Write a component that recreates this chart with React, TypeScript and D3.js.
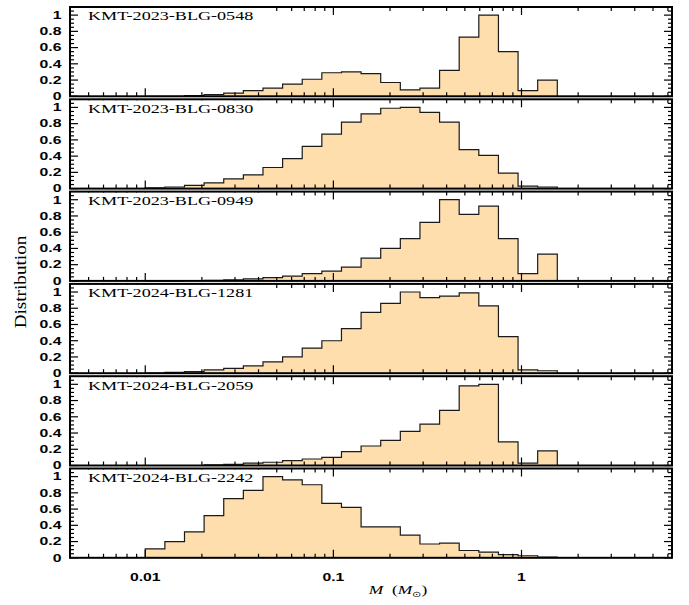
import React from 'react';
import * as d3 from 'd3';

const W = 689;
const H = 605;

// x axis: log mass, y axis: normalised distribution
const X_LOG_MIN = -2.4;
const X_LOG_MAX = 0.8;
const Y_MAX = 1.1;

// histogram bins (log10 M)
const BIN_LOG_START = -2;
const BIN_LOG_WIDTH = 0.1043;

const PANEL_NAMES = [
    'KMT-2023-BLG-0548',
    'KMT-2023-BLG-0830',
    'KMT-2023-BLG-0949',
    'KMT-2024-BLG-1281',
    'KMT-2024-BLG-2059',
    'KMT-2024-BLG-2242',
];

const DIST_0548 = [0, 0, 0.01, 0.02, 0.04, 0.07, 0.10, 0.15, 0.21, 0.29, 0.30, 0.28, 0.17, 0.08, 0.10, 0.32, 0.73, 1.0, 0.55, 0.07, 0.20];
const DIST_0830 = [0.01, 0.02, 0.04, 0.07, 0.12, 0.17, 0.26, 0.37, 0.52, 0.67, 0.82, 0.92, 0.99, 1.0, 0.94, 0.82, 0.48, 0.41, 0.19, 0.03, 0.02];
const DIST_0949 = [0, 0, 0.005, 0.008, 0.012, 0.025, 0.04, 0.06, 0.09, 0.12, 0.17, 0.28, 0.40, 0.52, 0.72, 1.0, 0.82, 0.92, 0.52, 0.09, 0.33];
const DIST_1281 = [0, 0.01, 0.02, 0.04, 0.06, 0.09, 0.14, 0.20, 0.31, 0.40, 0.55, 0.75, 0.86, 1.0, 0.93, 0.95, 0.99, 0.83, 0.45, 0.04, 0.03];
const DIST_2059 = [0, 0, 0, 0.008, 0.013, 0.03, 0.04, 0.06, 0.08, 0.10, 0.17, 0.24, 0.31, 0.42, 0.51, 0.68, 0.98, 1.0, 0.29, 0.03, 0.18];
const DIST_2242 = [0.11, 0.20, 0.32, 0.52, 0.73, 0.83, 1.0, 0.96, 0.90, 0.67, 0.62, 0.38, 0.38, 0.28, 0.17, 0.18, 0.09, 0.07, 0.04, 0.025, 0.01];

const PANEL_VALUES = [DIST_0548, DIST_0830, DIST_0949, DIST_1281, DIST_2059, DIST_2242];

const X_MAJOR = [0.01, 0.1, 1];
const X_MAJOR_LABELS = ['0.01', '0.1', '1'];
const Y_MAJOR = [0, 0.2, 0.4, 0.6, 0.8, 1];
const Y_MAJOR_LABELS = ['0', '0.2', '0.4', '0.6', '0.8', '1'];

// layout
const LEFT = 70;
const RIGHT = 672;
const TOP0 = 7;
const PITCH = 92.3;
const PANEL_H = 89.3;

const FILL = '#FFDEAD';
const SANS = '"Liberation Sans", Arial, sans-serif';
const SERIF = '"Liberation Serif", "Times New Roman", serif';

const x = d3.scaleLog()
    .domain([Math.pow(10, X_LOG_MIN), Math.pow(10, X_LOG_MAX)])
    .range([LEFT, RIGHT]);

// minor ticks 2..9 x decade inside the domain
const xMinor: number[] = [];
[0.001, 0.01, 0.1, 1].forEach(d => {
    for (let k = 2; k <= 9; k++) {
        const v = k * d;
        if (v >= x.domain()[0] && v <= x.domain()[1]) xMinor.push(v);
    }
});
const yMinor = d3.range(1, 22).map(i => i * 0.05).filter(v => Math.abs(v * 5 - Math.round(v * 5)) > 1e-6);

const Panel = ({ index }: { index: number }) => {
    const top = TOP0 + index * PITCH;
    const bottom = top + PANEL_H;
    const values = PANEL_VALUES[index];
    const y = d3.scaleLinear().domain([0, Y_MAX]).range([bottom, top]);

    const edges = d3.range(values.length + 1).map(i => Math.pow(10, BIN_LOG_START + i * BIN_LOG_WIDTH));
    const pts: [number, number][] = [
        [edges[0], 0],
        ...values.map((v, i) => [edges[i], v] as [number, number]),
        [edges[values.length], 0],
    ];

    const area = d3.area<[number, number]>()
        .x(d => x(d[0]))
        .y0(y(0))
        .y1(d => y(d[1]))
        .curve(d3.curveStepAfter);
    const line = d3.line<[number, number]>()
        .x(d => x(d[0]))
        .y(d => y(d[1]))
        .curve(d3.curveStepAfter);

    const tk = { stroke: '#000', strokeWidth: 1.2 };

    return (
        <g>
            <path d={area(pts) || ''} fill={FILL} />
            <path d={line(pts) || ''} fill="none" stroke="#1a1a1a" strokeWidth={1.2} />

            {/* x ticks, top and bottom */}
            {X_MAJOR.map(v => (
                <g key={'xM' + v}>
                    <line x1={x(v)} x2={x(v)} y1={bottom} y2={bottom - 8} {...tk} />
                    <line x1={x(v)} x2={x(v)} y1={top} y2={top + 8} {...tk} />
                </g>
            ))}
            {xMinor.map(v => (
                <g key={'xm' + v}>
                    <line x1={x(v)} x2={x(v)} y1={bottom} y2={bottom - 4} {...tk} />
                    <line x1={x(v)} x2={x(v)} y1={top} y2={top + 4} {...tk} />
                </g>
            ))}
            {/* y ticks, left and right */}
            {Y_MAJOR.map(v => (
                <g key={'yM' + v}>
                    <line x1={LEFT} x2={LEFT + 8} y1={y(v)} y2={y(v)} {...tk} />
                    <line x1={RIGHT} x2={RIGHT - 8} y1={y(v)} y2={y(v)} {...tk} />
                </g>
            ))}
            {yMinor.map(v => (
                <g key={'ym' + v}>
                    <line x1={LEFT} x2={LEFT + 4} y1={y(v)} y2={y(v)} {...tk} />
                    <line x1={RIGHT} x2={RIGHT - 4} y1={y(v)} y2={y(v)} {...tk} />
                </g>
            ))}

            {/* event label */}
            <rect x={80} y={top + 1} width={180} height={14} fill="#fff" />
            <g transform={`translate(88, ${top + 13.3}) scale(1.45, 1)`}>
                <text fontFamily={SERIF} fontSize={12.5} fill="#000">{PANEL_NAMES[index]}</text>
            </g>

            {/* y tick labels */}
            {Y_MAJOR.map((v, i) => (
                <g key={'yl' + v} transform={`translate(61.5, ${y(v) + 3.8}) scale(1.5, 1)`}>
                    <text textAnchor="end" fontFamily={SANS} fontWeight="bold" fontSize={10.5} fill="#000">
                        {Y_MAJOR_LABELS[i]}
                    </text>
                </g>
            ))}

            <rect x={LEFT} y={top} width={RIGHT - LEFT} height={PANEL_H} fill="none" stroke="#000" strokeWidth={2} />
        </g>
    );
};

const App = () => {
    const lastBottom = TOP0 + (PANEL_NAMES.length - 1) * PITCH + PANEL_H;
    return (
        <svg width={W} height={H} style={{ position: 'absolute', left: 0, top: 0, background: '#fff' }}>
            {PANEL_NAMES.map((_, i) => <Panel key={i} index={i} />)}

            {X_MAJOR.map((v, i) => (
                <g key={'xl' + v} transform={`translate(${x(v)}, ${lastBottom + 23}) scale(1.5, 1)`}>
                    <text textAnchor="middle" fontFamily={SANS} fontWeight="bold" fontSize={10.5} fill="#000">
                        {X_MAJOR_LABELS[i]}
                    </text>
                </g>
            ))}

            <g transform={`translate(398, 594) scale(1.4, 1)`}>
                <text textAnchor="middle" fontFamily={SERIF} fontSize={12.5} fill="#000">
                    <tspan fontStyle="italic">M</tspan>
                    <tspan>{'\u00a0\u00a0('}</tspan>
                    <tspan fontStyle="italic">M</tspan>
                    <tspan fontSize={8} dy={3}>⊙</tspan>
                    <tspan dy={-3}>)</tspan>
                </text>
            </g>

            <g transform={`translate(26, 282) rotate(-90) scale(1.2, 1)`}>
                <text textAnchor="middle" fontFamily={SERIF} fontSize={16} fill="#000">Distribution</text>
            </g>
        </svg>
    );
};

export default App;
